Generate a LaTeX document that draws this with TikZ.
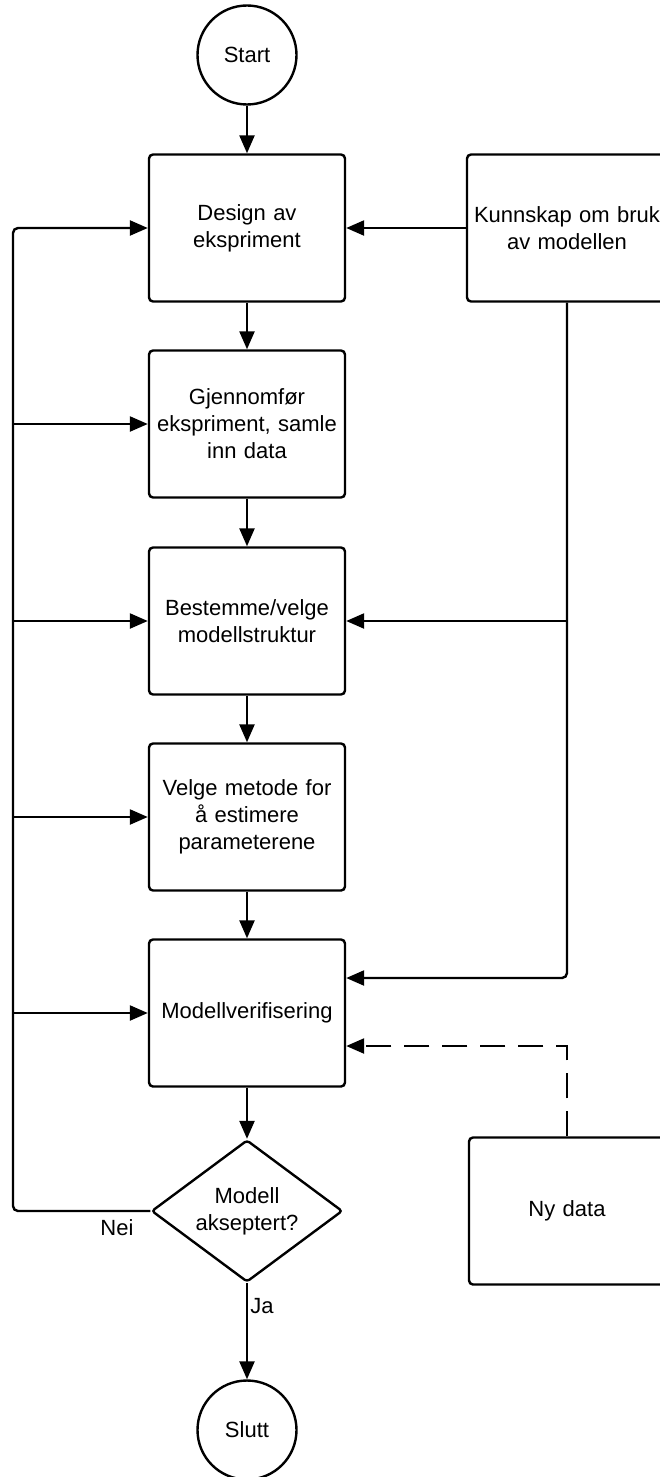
\documentclass[tikz,border=0pt]{standalone}
\usepackage{fontspec}
\setmainfont{Liberation Sans}
\usetikzlibrary{arrows.meta,shapes.geometric}
\begin{document}
\begin{tikzpicture}[x=1pt,y=-1pt,
  font=\fontsize{22}{27}\selectfont,
  every path/.style={line width=2.4pt},
  arr/.style={-{Triangle[length=18pt,width=15pt]}},
  stepbox/.style={draw,rounded corners=4pt,minimum width=196pt,minimum height=147pt,text width=180pt,align=center,inner sep=0pt},
  termin/.style={draw,circle,minimum size=99pt,inner sep=0pt},
  decis/.style={draw,diamond,aspect=1.345,minimum width=191pt,minimum height=142pt,inner sep=0pt,align=center,rounded corners=3pt},
  dsh/.style={dash pattern=on 25pt off 13pt}]
\useasboundingbox (0,0) rectangle (659,1477);
\node[termin] (start) at (247,55) {Start};
\node[stepbox] (b1) at (247,228) {Design av\\ekspriment};
\node[stepbox] (b2) at (247,424) {Gjennomfør\\ekspriment, samle\\inn data};
\node[stepbox] (b3) at (247,621) {Bestemme/velge\\modellstruktur};
\node[stepbox] (b4) at (247,817) {Velge metode for\\å estimere\\parameterene};
\node[stepbox] (b5) at (247,1013) {Modellverifisering};
\node[decis] (dia) at (247,1211) {Modell\\akseptert?};
\node[termin] (slutt) at (247,1430) {Slutt};
\node[stepbox,text width=200pt] (kunn) at (567,228) {Kunnskap om bruk\\av modellen};
\node[stepbox] (ny) at (567,1211) {Ny data};
\node (nei) at (117,1228) {Nei};
\node (ja) at (262,1306) {Ja};
\coordinate (L1) at (13,228);
\coordinate (L2) at (13,424);
\coordinate (L3) at (13,621);
\coordinate (L4) at (13,817);
\coordinate (L5) at (13,1013);
\coordinate (R3) at (567,621);
\coordinate (R5) at (567,978);
\coordinate (D) at (567,1046);
\draw[arr] (start) -- (b1);
\draw[arr] (b1) -- (b2);
\draw[arr] (b2) -- (b3);
\draw[arr] (b3) -- (b4);
\draw[arr] (b4) -- (b5);
\draw[arr] (b5) -- (dia);
\draw[arr] (dia) -- (slutt);
\draw[arr] (kunn) -- (b1);
\draw[arr,rounded corners=5pt] (dia.west) -| (L1) -- (b1.west);
\draw[arr] (L2) -- (b2.west);
\draw[arr] (L3) -- (b3.west);
\draw[arr] (L4) -- (b4.west);
\draw[arr] (L5) -- (b5.west);
\draw[arr,rounded corners=5pt] (kunn.south) -- (R5) -- (R5 -| b5.east);
\draw[arr] (R3) -- (b3.east);
\draw[arr,dsh] (ny.north) -- (D) -- (D -| b5.east);
\end{tikzpicture}
\end{document}
